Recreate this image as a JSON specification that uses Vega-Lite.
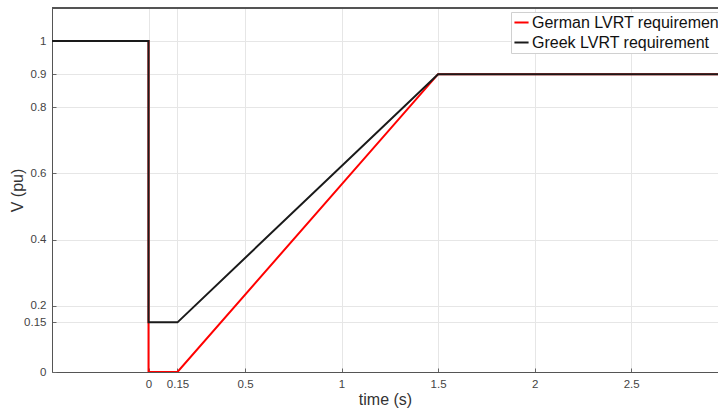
{
  "$schema": "https://vega.github.io/schema/vega-lite/v6.json",
  "autosize": "none",
  "width": 666,
  "height": 364,
  "padding": {"left": 52, "top": 8, "right": 0, "bottom": 38},
  "background": "white",
  "config": {
    "view": {"stroke": null},
    "font": "Liberation Sans",
    "axis": {
      "gridColor": "#e6e6e6",
      "gridWidth": 1,
      "domainColor": "#555555",
      "domainWidth": 1,
      "tickSize": -4,
      "tickColor": "#666666",
      "labelFont": "Liberation Sans",
      "labelFontSize": 11.5,
      "labelColor": "#444444",
      "titleFont": "Liberation Sans",
      "titleFontSize": 16,
      "titleFontWeight": "normal",
      "titleColor": "#333333"
    }
  },
  "data": {
    "values": [
      {"series": "German LVRT requirement", "i": 1, "t": -0.5, "v": 1},
      {"series": "German LVRT requirement", "i": 2, "t": 0, "v": 1},
      {"series": "German LVRT requirement", "i": 3, "t": 0, "v": 0},
      {"series": "German LVRT requirement", "i": 4, "t": 0.15, "v": 0},
      {"series": "German LVRT requirement", "i": 5, "t": 1.5, "v": 0.9},
      {"series": "German LVRT requirement", "i": 6, "t": 2.95, "v": 0.9},
      {"series": "Greek LVRT requirement", "i": 1, "t": -0.5, "v": 1},
      {"series": "Greek LVRT requirement", "i": 2, "t": 0, "v": 1},
      {"series": "Greek LVRT requirement", "i": 3, "t": 0, "v": 0.15},
      {"series": "Greek LVRT requirement", "i": 4, "t": 0.15, "v": 0.15},
      {"series": "Greek LVRT requirement", "i": 5, "t": 1.5, "v": 0.9},
      {"series": "Greek LVRT requirement", "i": 6, "t": 2.95, "v": 0.9}
    ]
  },
  "layer": [
    {
      "mark": {"type": "line", "strokeWidth": 2, "clip": true},
      "encoding": {
        "x": {
          "field": "t", "type": "quantitative",
          "scale": {"domain": [-0.5, 2.95], "nice": false, "zero": false},
          "axis": {"title": "time (s)", "format": "~g", "values": [0, 0.15, 0.5, 1, 1.5, 2, 2.5], "labelPadding": 10, "titleY": 19, "labelFlush": false}
        },
        "y": {
          "field": "v", "type": "quantitative",
          "scale": {"domain": [0, 1.1], "nice": false},
          "axis": {"title": "V (pu)", "format": "~g", "values": [0, 0.15, 0.2, 0.4, 0.6, 0.8, 0.9, 1], "labelPadding": 10, "titleX": -27, "titleY": 182}
        },
        "order": {"field": "i", "type": "quantitative"},
        "color": {
          "field": "series", "type": "nominal",
          "scale": {"domain": ["German LVRT requirement", "Greek LVRT requirement"], "range": ["#ff0000", "#1a1a1a"]},
          "legend": {
            "title": null,
            "orient": "none",
            "legendX": 459,
            "legendY": 4,
            "fillColor": "white",
            "strokeColor": "#d0d0d0",
            "padding": 2,
            "symbolType": "stroke",
            "symbolSize": 200,
            "symbolStrokeWidth": 2,
            "labelFont": "Liberation Sans",
            "labelFontSize": 16,
            "labelColor": "#111111",
            "labelLimit": 400,
            "labelOffset": 2,
            "rowPadding": 3
          }
        }
      }
    },
    {
      "mark": {"type": "rule", "color": "#555555", "strokeWidth": 1},
      "encoding": {"y": {"datum": 1.1, "type": "quantitative"}}
    }
  ]
}
